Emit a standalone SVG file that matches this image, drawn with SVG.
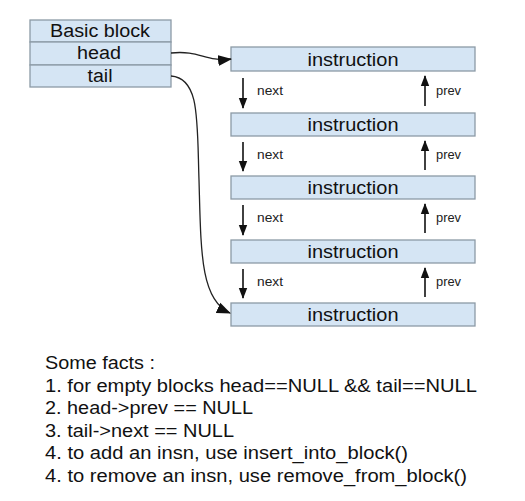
<svg xmlns="http://www.w3.org/2000/svg" width="525" height="501" viewBox="0 0 525 501">
<defs>
<marker id="ah" markerWidth="11" markerHeight="10" refX="10" refY="5" orient="auto" markerUnits="userSpaceOnUse"><path d="M0,0.8 L11,5 L0,9.2 z" fill="#111"/></marker>
<marker id="ah2" markerWidth="14" markerHeight="12" refX="13" refY="6" orient="auto" markerUnits="userSpaceOnUse"><path d="M0,0.5 L14,6 L0,11.5 z" fill="#111"/></marker>
</defs>
<style>
.box{fill:#d5e5f4;stroke:#8c9aa6;stroke-width:1.3}
.t{font-family:"Liberation Sans",Arial,sans-serif;font-size:18px;fill:#111;text-anchor:middle}
.s{font-family:"Liberation Sans",Arial,sans-serif;font-size:12px;fill:#222}
.f{font-family:"Liberation Sans",Arial,sans-serif;font-size:17.5px;fill:#111}
.ar{stroke:#111;stroke-width:1.6;fill:none}
.cn{stroke:#222;stroke-width:1.3;fill:none}
</style>
<rect width="525" height="501" fill="#fff"/>
<g id="basic-block">
<rect class="box" x="30" y="20" width="141" height="22"/>
<rect class="box" x="30" y="42" width="141" height="23"/>
<rect class="box" x="30" y="65" width="141" height="22"/>
<text class="t" x="100" y="37" textLength="100" lengthAdjust="spacingAndGlyphs">Basic block</text>
<text class="t" x="99" y="59" textLength="44" lengthAdjust="spacingAndGlyphs">head</text>
<text class="t" x="100" y="82" textLength="25" lengthAdjust="spacingAndGlyphs">tail</text>
</g>
<g id="insn1"><rect class="box" x="231" y="47" width="244" height="24"/><text class="t" x="353" y="66" textLength="91" lengthAdjust="spacingAndGlyphs">instruction</text></g>
<g id="insn2"><rect class="box" x="231" y="113" width="244" height="23"/><text class="t" x="353" y="131" textLength="91" lengthAdjust="spacingAndGlyphs">instruction</text></g>
<g id="insn3"><rect class="box" x="231" y="176" width="244" height="23"/><text class="t" x="353" y="194" textLength="91" lengthAdjust="spacingAndGlyphs">instruction</text></g>
<g id="insn4"><rect class="box" x="231" y="240" width="244" height="23"/><text class="t" x="353" y="258" textLength="91" lengthAdjust="spacingAndGlyphs">instruction</text></g>
<g id="insn5"><rect class="box" x="231" y="303" width="244" height="23"/><text class="t" x="353" y="321" textLength="91" lengthAdjust="spacingAndGlyphs">instruction</text></g>
<g id="connectors">
<path class="cn" d="M171,53 C200,50 205,62 231,59" marker-end="url(#ah2)"/>
<path class="cn" d="M171,76 C200,78 197,120 199,180 C201,250 200,300 230,313" marker-end="url(#ah2)"/>
<g marker-end="url(#ah)">
<line class="ar" x1="243" y1="78" x2="243" y2="108"/>
<line class="ar" x1="243" y1="142" x2="243" y2="171"/>
<line class="ar" x1="243" y1="205" x2="243" y2="235"/>
<line class="ar" x1="243" y1="269" x2="243" y2="298"/>
<line class="ar" x1="425" y1="106" x2="425" y2="76"/>
<line class="ar" x1="425" y1="170" x2="425" y2="141"/>
<line class="ar" x1="425" y1="233" x2="425" y2="204"/>
<line class="ar" x1="425" y1="297" x2="425" y2="268"/>
</g>
<text class="s" x="257" y="95" textLength="26" lengthAdjust="spacingAndGlyphs">next</text>
<text class="s" x="257" y="159" textLength="26" lengthAdjust="spacingAndGlyphs">next</text>
<text class="s" x="257" y="222" textLength="26" lengthAdjust="spacingAndGlyphs">next</text>
<text class="s" x="257" y="286" textLength="26" lengthAdjust="spacingAndGlyphs">next</text>
<text class="s" x="436" y="95" textLength="25" lengthAdjust="spacingAndGlyphs">prev</text>
<text class="s" x="436" y="159" textLength="25" lengthAdjust="spacingAndGlyphs">prev</text>
<text class="s" x="436" y="222" textLength="25" lengthAdjust="spacingAndGlyphs">prev</text>
<text class="s" x="436" y="286" textLength="25" lengthAdjust="spacingAndGlyphs">prev</text>
</g>
<g id="facts">
<text class="f" x="45" y="369" textLength="110" lengthAdjust="spacingAndGlyphs">Some facts :</text>
<text class="f" x="45" y="392" textLength="432" lengthAdjust="spacingAndGlyphs">1. for empty blocks head==NULL &amp;&amp; tail==NULL</text>
<text class="f" x="45" y="414" textLength="208" lengthAdjust="spacingAndGlyphs">2. head-&gt;prev == NULL</text>
<text class="f" x="45" y="437" textLength="189" lengthAdjust="spacingAndGlyphs">3. tail-&gt;next == NULL</text>
<text class="f" x="45" y="459" textLength="363" lengthAdjust="spacingAndGlyphs">4. to add an insn, use insert_into_block()</text>
<text class="f" x="45" y="482" textLength="422" lengthAdjust="spacingAndGlyphs">4. to remove an insn, use remove_from_block()</text>
</g>
</svg>
